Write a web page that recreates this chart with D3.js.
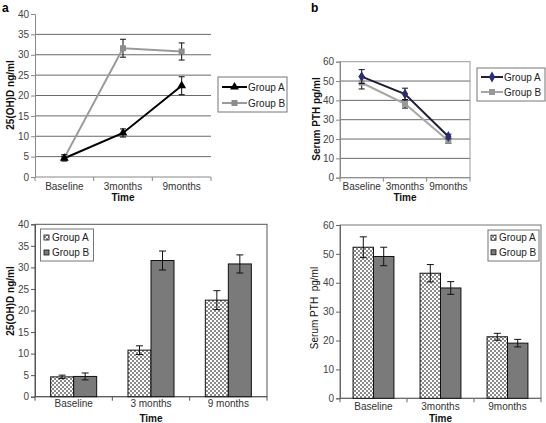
<!DOCTYPE html>
<html><head><meta charset="utf-8">
<script src="https://cdn.jsdelivr.net/npm/d3@7/dist/d3.min.js"></script>
<style>
html,body{margin:0;padding:0;background:#fff;}
svg text{font-family:"Liberation Sans",Arial,sans-serif;}
</style></head>
<body>
<svg id="c" width="546" height="423"></svg>
<script>
// ---- data ----
const timeLabelsLine = ["Baseline", "3months", "9months"];
const timeLabelsBarA = ["Baseline", "3 months", "9 months"];
const timeLabelsBarB = ["Baseline", "3months", "9months"];
const groups = ["Group A", "Group B"];

const vitDGroupA = [4.6, 10.8, 22.4];
const vitDGroupAErr = [0.4, 1.0, 2.2];
const vitDGroupB = [4.7, 31.6, 30.8];
const vitDGroupBErr = [0.8, 2.2, 2.1];

const pthGroupA = [52.3, 43.3, 21.3];
const pthGroupAErr = [3.6, 3.0, 1.2];
const pthGroupB = [49.1, 38.2, 19.1];
const pthGroupBErr = [3.2, 2.2, 1.3];

const vitDTicks = [0, 5, 10, 15, 20, 25, 30, 35, 40];
const pthTicks = [0, 10, 20, 30, 40, 50, 60];

const svg = d3.select("#c");

// pattern for Group A bars
const defs = svg.append("defs");
const pat = defs.append("pattern").attr("id", "chk").attr("patternUnits", "userSpaceOnUse")
  .attr("width", 4).attr("height", 4);
pat.append("rect").attr("width", 4).attr("height", 4).attr("fill", "#fff");
pat.append("rect").attr("width", 2).attr("height", 2).attr("fill", "#8a8a8a");
pat.append("rect").attr("x", 2).attr("y", 2).attr("width", 2).attr("height", 2).attr("fill", "#8a8a8a");

function frame(cfg) {
  const g = svg.append("g");
  const y = d3.scaleLinear().domain([0, cfg.max]).range([cfg.yb, cfg.yt]);
  const x = d3.scaleBand().domain(cfg.cats).range([cfg.x0, cfg.x1]).padding(0);
  // gridlines
  if (cfg.grid) {
    g.selectAll(".gl").data(cfg.ticks.filter(t => t > 0 && t < cfg.max)).join("line")
      .attr("x1", cfg.x0).attr("x2", cfg.x1).attr("y1", d => y(d)).attr("y2", d => y(d))
      .attr("stroke", "#6a6a6a").attr("stroke-width", 1);
  }
  if (cfg.box) {
    g.append("rect").attr("x", cfg.x0).attr("y", y(cfg.max)).attr("width", cfg.x1 - cfg.x0)
      .attr("height", y(0) - y(cfg.max)).attr("fill", "none").attr("stroke", cfg.boxColor).attr("stroke-width", 1);
  }
  // y axis
  const ya = d3.axisLeft(y).tickValues(cfg.ticks).tickSize(4).tickPadding(2);
  const yg = g.append("g").attr("transform", `translate(${cfg.x0},0)`).call(ya);
  yg.select(".domain").attr("stroke", cfg.axisColor);
  yg.selectAll(".tick line").attr("stroke", cfg.axisColor);
  yg.selectAll(".tick text").attr("font-size", 10).attr("fill", "#444")
    .attr("font-family", "Liberation Sans, Arial, sans-serif");
  // x axis line
  g.append("line").attr("x1", cfg.x0).attr("x2", cfg.x1).attr("y1", y(0)).attr("y2", y(0))
    .attr("stroke", cfg.axisColor);
  // boundary ticks
  const bounds = cfg.cats.map(c => x(c)).concat([cfg.x1]);
  g.selectAll(".bt").data(bounds).join("line")
    .attr("x1", d => d).attr("x2", d => d).attr("y1", y(0)).attr("y2", y(0) + 4)
    .attr("stroke", cfg.axisColor);
  g.selectAll(".xl").data(cfg.cats).join("text")
    .attr("x", d => x(d) + x.bandwidth() / 2).attr("y", cfg.xlY)
    .attr("text-anchor", "middle").attr("font-size", 10).attr("fill", "#333").text(d => d);
  g.append("text").attr("x", (cfg.x0 + cfg.x1) / 2).attr("y", cfg.titleY)
    .attr("text-anchor", "middle").attr("font-size", 10).attr("font-weight", "bold").attr("fill", "#111").text("Time");
  g.append("text").attr("transform", `translate(${cfg.ylX},${cfg.ylY}) rotate(-90)`)
    .attr("text-anchor", "middle").attr("font-size", 10).attr("font-weight", cfg.ylBold ? "bold" : "normal")
    .attr("fill", "#111").style("white-space", "pre").text(cfg.ylabel);
  return {g, x, y};
}

function errBars(g, xs, y, vals, errs, cap) {
  vals.forEach((v, i) => {
    const cx = xs[i];
    g.append("line").attr("x1", cx).attr("x2", cx).attr("y1", y(v + errs[i])).attr("y2", y(v - errs[i]))
      .attr("stroke", "#111").attr("stroke-width", 1);
    [v + errs[i], v - errs[i]].forEach(e => g.append("line").attr("x1", cx - cap).attr("x2", cx + cap)
      .attr("y1", y(e)).attr("y2", y(e)).attr("stroke", "#111").attr("stroke-width", 1));
  });
}

function marker(g, type, cx, cy, color) {
  if (type === "tri") g.append("path").attr("d", d3.symbol(d3.symbolTriangle, 34)()).attr("transform", `translate(${cx},${cy})`).attr("fill", color);
  else if (type === "sq") g.append("rect").attr("x", cx - 3).attr("y", cy - 3).attr("width", 6).attr("height", 6).attr("fill", color);
  else if (type === "dia") g.append("path").attr("d", d3.symbol(d3.symbolDiamond, 34)()).attr("transform", `translate(${cx},${cy})`).attr("fill", color);
}

function lineChart(cfg, series) {
  const {g, x, y} = frame(cfg);
  const cxs = cfg.cats.map(c => x(c) + x.bandwidth() / 2);
  // draw B first (behind) then A per the reference
  series.forEach(s => {
    const ln = d3.line().x((d, i) => cxs[i]).y(d => y(d));
    g.append("path").attr("d", ln(s.vals)).attr("fill", "none").attr("stroke", s.line).attr("stroke-width", 2);
  });
  series.forEach(s => {
    errBars(g, cxs, y, s.vals, s.errs, 3);
    s.vals.forEach((v, i) => marker(g, s.mk, cxs[i], y(v), s.mkColor));
  });
  // legend
  const L = cfg.legend;
  g.append("rect").attr("x", L.x).attr("y", L.y).attr("width", L.w).attr("height", L.h)
    .attr("fill", "#fff").attr("stroke", "#777");
  series.slice().sort((a, b) => a.name < b.name ? -1 : 1).forEach((s, i) => {
    const yy = L.rows[i];
    g.append("line").attr("x1", L.lx0).attr("x2", L.lx1).attr("y1", yy).attr("y2", yy).attr("stroke", s.line).attr("stroke-width", 2);
    marker(g, s.mk, (L.lx0 + L.lx1) / 2, yy, s.mkColor);
    g.append("text").attr("x", L.lx1 + 1).attr("y", yy + 3.5).attr("font-size", 10).attr("fill", "#222").text(s.name);
  });
}

function barChart(cfg, series) {
  const {g, x, y} = frame(cfg);
  const bw = x.bandwidth();
  const inner = d3.scaleBand().domain(groups).range([bw * (1 - cfg.gfrac) / 2, bw * (1 + cfg.gfrac) / 2]).padding(0);
  series.forEach(s => {
    g.selectAll(null).data(s.vals).join("rect")
      .attr("x", (d, i) => x(cfg.cats[i]) + inner(s.name)).attr("width", inner.bandwidth())
      .attr("y", d => y(d)).attr("height", d => y(0) - y(d))
      .attr("fill", s.fill).attr("stroke", "#111").attr("stroke-width", 1);
  });
  series.forEach(s => {
    const cxs = cfg.cats.map(c => x(c) + inner(s.name) + inner.bandwidth() / 2);
    errBars(g, cxs, y, s.vals, s.errs, 3.5);
  });
  const L = cfg.legend;
  g.append("rect").attr("x", L.x).attr("y", L.y).attr("width", L.w).attr("height", L.h)
    .attr("fill", "#fff").attr("stroke", "#777");
  series.forEach((s, i) => {
    const yy = L.rows[i];
    g.append("rect").attr("x", L.sx).attr("y", yy - 2.5).attr("width", 5).attr("height", 5)
      .attr("fill", s.fill).attr("stroke", "#111").attr("stroke-width", 0.8);
    g.append("text").attr("x", L.sx + 8).attr("y", yy + 3.5).attr("font-size", 10).attr("fill", "#222").text(s.name);
  });
}

// panel labels
svg.append("text").attr("x", 2).attr("y", 12).attr("font-size", 12).attr("font-weight", "bold").text("a");
svg.append("text").attr("x", 311).attr("y", 12).attr("font-size", 12).attr("font-weight", "bold").text("b");

// a: line chart
lineChart({
  cats: timeLabelsLine, max: 40, ticks: vitDTicks, x0: 35, x1: 211, yt: 14, yb: 177,
  grid: true, box: false, axisColor: "#888", xlY: 190, titleY: 201,
  ylabel: "25(OH)D ng/ml", ylX: 13.5, ylY: 95, ylBold: true,
  legend: {x: 218, y: 77, w: 69, h: 35, lx0: 222, lx1: 247, rows: [87, 103]}
}, [
  {name: "Group B", vals: vitDGroupB, errs: vitDGroupBErr, line: "#9a9a9a", mk: "sq", mkColor: "#8c8c8c"},
  {name: "Group A", vals: vitDGroupA, errs: vitDGroupAErr, line: "#000", mk: "tri", mkColor: "#000"}
]);

// b: line chart
lineChart({
  cats: timeLabelsLine, max: 60, ticks: pthTicks, x0: 340, x1: 470, yt: 61.7, yb: 177.7,
  grid: true, box: true, boxColor: "#999", axisColor: "#888", xlY: 190, titleY: 201,
  ylabel: "Serum PTH pg/ml", ylX: 319.5, ylY: 119, ylBold: true,
  legend: {x: 477, y: 68, w: 68, h: 33, lx0: 481, lx1: 503, rows: [77, 92]}
}, [
  {name: "Group B", vals: pthGroupB, errs: pthGroupBErr, line: "#a6a6a6", mk: "sq", mkColor: "#999"},
  {name: "Group A", vals: pthGroupA, errs: pthGroupAErr, line: "#1e1e3c", mk: "dia", mkColor: "#2b2b78"}
]);

// a: bar chart
barChart({
  cats: timeLabelsBarA, max: 40, ticks: vitDTicks, x0: 35, x1: 267, yt: 224.3, yb: 396.7,
  grid: false, box: true, boxColor: "#555", axisColor: "#555", xlY: 407, titleY: 422, gfrac: 0.595,
  ylabel: "25(OH)D ng/ml", ylX: 13.5, ylY: 301, ylBold: true,
  legend: {x: 40.5, y: 229, w: 53, h: 32, sx: 44, rows: [237.5, 252.5]}
}, [
  {name: "Group A", vals: vitDGroupA, errs: vitDGroupAErr, fill: "url(#chk)"},
  {name: "Group B", vals: vitDGroupB, errs: vitDGroupBErr, fill: "#7a7a7a"}
]);

// b: bar chart
barChart({
  cats: timeLabelsBarB, max: 60, ticks: pthTicks, x0: 340, x1: 541, yt: 225, yb: 398.3,
  grid: false, box: true, boxColor: "#777", axisColor: "#666", xlY: 410, titleY: 422, gfrac: 0.61,
  ylabel: "Serum PTH  pg/ml", ylX: 318, ylY: 308, ylBold: false,
  legend: {x: 488, y: 230, w: 51, h: 31, sx: 491, rows: [237.7, 252.3]}
}, [
  {name: "Group A", vals: pthGroupA, errs: pthGroupAErr, fill: "url(#chk)"},
  {name: "Group B", vals: pthGroupB, errs: pthGroupBErr, fill: "#7a7a7a"}
]);
</script>
</body></html>
